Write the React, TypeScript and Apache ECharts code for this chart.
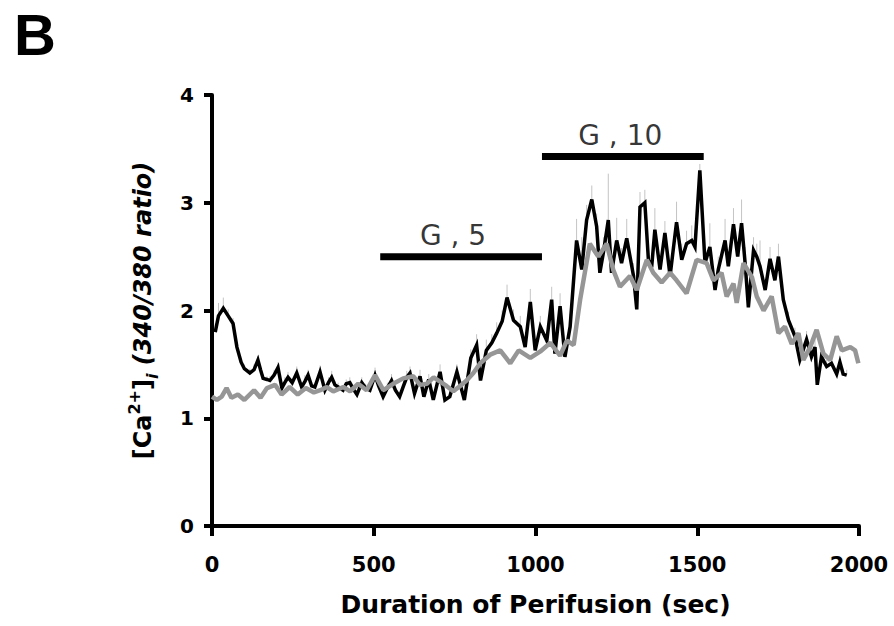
import React, { useEffect, useRef } from "react";
import * as echarts from "echarts";

// [time (s), ratio, SEM]
const blackTrace: number[][] = [
  [10, 1.80, 0.08], [20, 1.95, 0.12], [35, 2.02, 0.1], [50, 1.95, 0.06], [65, 1.88, 0.05],
  [77, 1.66, 0.05], [90, 1.52, 0.04], [100, 1.46, 0.04], [117, 1.42, 0.04], [130, 1.45, 0.05],
  [142, 1.54, 0.04], [150, 1.45, 0.03], [158, 1.37, 0.04], [170, 1.36, 0.03], [179, 1.35, 0.04],
  [192, 1.40, 0.05], [204, 1.47, 0.05], [216, 1.28, 0.04], [225, 1.33, 0.05], [235, 1.38, 0.05],
  [248, 1.33, 0.04], [262, 1.42, 0.06], [277, 1.29, 0.04], [287, 1.34, 0.06], [297, 1.40, 0.05],
  [308, 1.30, 0.04], [318, 1.29, 0.04], [334, 1.43, 0.06], [349, 1.26, 0.04], [360, 1.33, 0.05],
  [370, 1.38, 0.06], [380, 1.31, 0.04], [390, 1.29, 0.04], [405, 1.26, 0.03], [415, 1.32, 0.04],
  [426, 1.33, 0.05], [437, 1.27, 0.04], [448, 1.22, 0.03], [463, 1.33, 0.05], [475, 1.28, 0.04],
  [488, 1.26, 0.04], [504, 1.40, 0.07], [515, 1.30, 0.04], [529, 1.20, 0.03], [542, 1.28, 0.05],
  [555, 1.35, 0.06], [567, 1.26, 0.04], [580, 1.20, 0.04], [592, 1.30, 0.05], [602, 1.38, 0.06],
  [612, 1.42, 0.06], [626, 1.23, 0.04], [643, 1.39, 0.06], [655, 1.20, 0.04], [670, 1.36, 0.05],
  [684, 1.17, 0.04], [705, 1.43, 0.07], [720, 1.17, 0.04], [735, 1.20, 0.05], [757, 1.43, 0.07],
  [780, 1.17, 0.04], [800, 1.56, 0.08], [818, 1.68, 0.1], [830, 1.35, 0.06], [848, 1.63, 0.1],
  [865, 1.70, 0.08], [880, 1.79, 0.1], [897, 1.90, 0.1], [912, 2.12, 0.12], [932, 1.91, 0.1],
  [953, 1.85, 0.1], [968, 1.66, 0.08], [984, 2.08, 0.12], [999, 1.63, 0.08], [1015, 1.85, 0.1],
  [1035, 1.72, 0.08], [1050, 2.10, 0.12], [1060, 1.60, 0.08], [1076, 2.04, 0.12], [1091, 1.57, 0.08],
  [1107, 1.85, 0.12], [1127, 2.65, 0.2], [1143, 2.38, 0.3], [1158, 2.84, 0.14], [1174, 3.03, 0.13],
  [1189, 2.78, 0.12], [1199, 2.35, 0.1], [1210, 2.54, 0.14], [1225, 2.84, 0.43], [1235, 2.35, 0.12],
  [1251, 2.65, 0.21], [1266, 2.44, 0.14], [1282, 2.67, 0.18], [1303, 2.32, 0.12], [1313, 2.01, 0.1],
  [1323, 2.96, 0.14], [1338, 3.00, 0.12], [1349, 2.47, 0.1], [1359, 2.40, 0.12], [1369, 2.75, 0.2],
  [1385, 2.38, 0.12], [1400, 2.72, 0.11], [1416, 2.32, 0.1], [1436, 2.82, 0.19], [1452, 2.47, 0.15],
  [1467, 2.62, 0.12], [1483, 2.65, 0.14], [1493, 2.59, 0.16], [1508, 3.30, 0.06], [1524, 2.44, 0.12],
  [1539, 2.59, 0.22], [1555, 2.19, 0.1], [1565, 2.38, 0.12], [1586, 2.65, 0.2], [1596, 2.41, 0.14],
  [1612, 2.80, 0.15], [1625, 2.50, 0.12], [1637, 2.81, 0.22], [1648, 2.44, 0.15], [1658, 2.03, 0.1],
  [1674, 2.56, 0.12], [1684, 2.50, 0.12], [1694, 2.41, 0.24], [1710, 2.19, 0.1], [1725, 2.48, 0.11],
  [1740, 2.28, 0.1], [1751, 2.50, 0.12], [1766, 2.10, 0.1], [1782, 1.91, 0.08], [1802, 1.76, 0.08],
  [1817, 1.54, 0.06], [1838, 1.73, 0.08], [1853, 1.57, 0.06], [1864, 1.66, 0.08], [1871, 1.31, 0.05],
  [1884, 1.57, 0.06], [1900, 1.48, 0.06], [1915, 1.51, 0.06], [1931, 1.41, 0.05], [1941, 1.52, 0.06],
  [1951, 1.41, 0.05], [1962, 1.40, 0.05],
];

// [time (s), ratio]
const grayTrace: number[][] = [
  [0, 1.20], [15, 1.17], [30, 1.20], [45, 1.28], [60, 1.19], [80, 1.22], [100, 1.17], [130, 1.26],
  [150, 1.19], [170, 1.28], [195, 1.31], [215, 1.22], [240, 1.29], [265, 1.22], [290, 1.28], [315, 1.24],
  [335, 1.26], [355, 1.29], [375, 1.25], [406, 1.29], [427, 1.25], [452, 1.32], [478, 1.26], [504, 1.40],
  [530, 1.26], [560, 1.32], [591, 1.37], [622, 1.39], [643, 1.31], [664, 1.32], [685, 1.38], [705, 1.34],
  [725, 1.30], [746, 1.25], [767, 1.30], [787, 1.35], [808, 1.42], [829, 1.51], [860, 1.59], [891, 1.63],
  [922, 1.51], [948, 1.63], [984, 1.56], [1015, 1.62], [1046, 1.70], [1076, 1.58], [1097, 1.72], [1118, 1.68],
  [1138, 2.10], [1168, 2.62], [1194, 2.50], [1220, 2.62], [1240, 2.38], [1261, 2.22], [1292, 2.32], [1313, 2.19],
  [1344, 2.47], [1364, 2.35], [1390, 2.26], [1416, 2.35], [1436, 2.28], [1467, 2.16], [1498, 2.47], [1529, 2.44],
  [1550, 2.28], [1575, 2.35], [1591, 2.13], [1612, 2.25], [1622, 2.07], [1643, 2.44], [1669, 2.31], [1684, 2.13],
  [1705, 2.00], [1730, 2.13], [1751, 1.79], [1771, 1.85], [1792, 1.69], [1813, 1.79], [1828, 1.54], [1849, 1.66],
  [1869, 1.82], [1890, 1.60], [1911, 1.54], [1931, 1.76], [1947, 1.63], [1973, 1.66], [1988, 1.63], [1998, 1.51],
];

// glucose application bars: [start, end, level]
const g5Bar = [520, 1020, 2.5];
const g10Bar = [1020, 1520, 3.43];
const g5Label = { x: 745, y: 2.5, text: "G , 5" };
const g10Label = { x: 1262, y: 3.43, text: "G , 10" };

const xTicks = [0, 500, 1000, 1500, 2000];
const yTicks = [0, 1, 2, 3, 4];

const FONT = "DejaVu Sans";

export default function App() {
  const ref = useRef<HTMLDivElement>(null);
  useEffect(() => {
    if (!ref.current) return;
    const chart = echarts.init(ref.current, undefined, { renderer: "svg" });
    const option: any = {
      animation: false,
      backgroundColor: "#ffffff",
      graphic: [
        {
          type: "text",
          left: 14,
          top: 5,
          style: {
            text: "B",
            font: 'bold 58px "Liberation Sans Narrow", "Liberation Sans", sans-serif',
            fill: "#000",
          },
        },
      ],
      grid: { left: 212, right: 35, top: 95, bottom: 100, containLabel: false },
      xAxis: {
        type: "value",
        min: 0,
        max: 2000,
        interval: 500,
        name: "Duration of Perifusion (sec)",
        nameLocation: "middle",
        nameGap: 66,
        nameTextStyle: { fontFamily: FONT, fontWeight: "bold", fontSize: 25, color: "#000" },
        axisLine: { show: true, lineStyle: { color: "#000", width: 4 } },
        axisTick: { show: true, length: 10, lineStyle: { color: "#000", width: 4 } },
        axisLabel: {
          fontFamily: FONT,
          fontWeight: "bold",
          fontSize: 21,
          color: "#000",
          margin: 28,
          customValues: xTicks,
          formatter: (v: number) => String(v),
        },
        splitLine: { show: false },
      },
      yAxis: {
        type: "value",
        min: 0,
        max: 4,
        interval: 1,
        name: "{b|[Ca}{sup|2+}{b|]}{sub|i}{bi| (340/380 ratio)}",
        nameLocation: "middle",
        nameGap: 52,
        nameRotate: 90,
        nameTextStyle: {
          color: "#000",
          rich: {
            b: { fontFamily: FONT, fontWeight: "bold", fontSize: 24, lineHeight: 34, color: "#000", verticalAlign: "middle" },
            sup: { fontFamily: FONT, fontWeight: "bold", fontSize: 16, lineHeight: 34, color: "#000", verticalAlign: "top" },
            sub: { fontFamily: FONT, fontWeight: "bold", fontStyle: "italic", fontSize: 16, lineHeight: 34, color: "#000", verticalAlign: "bottom" },
            bi: { fontFamily: FONT, fontWeight: "bold", fontStyle: "italic", fontSize: 24, lineHeight: 34, color: "#000", verticalAlign: "middle" },
          },
        },
        axisLine: { show: true, lineStyle: { color: "#000", width: 4 } },
        axisTick: { show: true, length: 8, lineStyle: { color: "#000", width: 4 } },
        axisLabel: {
          fontFamily: FONT,
          fontWeight: "bold",
          fontSize: 20,
          color: "#000",
          margin: 18,
          customValues: yTicks,
          formatter: (v: number) => String(v),
        },
        splitLine: { show: false },
      },
      series: [
        {
          name: "sem",
          type: "custom",
          z: 1,
          data: blackTrace.map((d) => [d[0], d[1], d[2]]),
          renderItem: (params: any, api: any) => {
            const p0 = api.coord([api.value(0), api.value(1)]);
            const p1 = api.coord([api.value(0), api.value(1) + api.value(2)]);
            return {
              type: "line",
              shape: { x1: p0[0], y1: p0[1], x2: p1[0], y2: p1[1] },
              style: { stroke: "#c4c4c4", lineWidth: 1 },
            };
          },
        },
        {
          name: "black",
          type: "line",
          z: 2,
          data: blackTrace.map((d) => [d[0], d[1]]),
          showSymbol: false,
          symbol: "none",
          lineStyle: { color: "#000", width: 3.5, join: "miter" },
        },
        {
          name: "gray",
          type: "line",
          z: 3,
          data: grayTrace,
          showSymbol: false,
          symbol: "none",
          lineStyle: { color: "#969696", width: 4.5 },
        },
        {
          name: "g5",
          type: "line",
          z: 4,
          data: [
            [g5Bar[0], g5Bar[2]],
            [g5Bar[1], g5Bar[2]],
          ],
          symbol: "none",
          lineStyle: { color: "#000", width: 7, cap: "butt" },
        },
        {
          name: "g10",
          type: "line",
          z: 4,
          data: [
            [g10Bar[0], g10Bar[2]],
            [g10Bar[1], g10Bar[2]],
          ],
          symbol: "none",
          lineStyle: { color: "#000", width: 7, cap: "butt" },
        },
        {
          name: "labels",
          type: "scatter",
          z: 5,
          symbolSize: 0,
          data: [
            { value: [g5Label.x, g5Label.y], name: g5Label.text },
            { value: [g10Label.x, g10Label.y], name: g10Label.text },
          ],
          label: {
            show: true,
            position: "top",
            distance: 7,
            formatter: (p: any) => p.name,
            fontFamily: FONT,
            fontSize: 28,
            color: "#000",
          },
          emphasis: { disabled: true },
        },
      ],
    };
    chart.setOption(option);
    return () => chart.dispose();
  }, []);
  return <div ref={ref} style={{ width: 894, height: 626, position: "absolute", left: 0, top: 0 }} />;
}
